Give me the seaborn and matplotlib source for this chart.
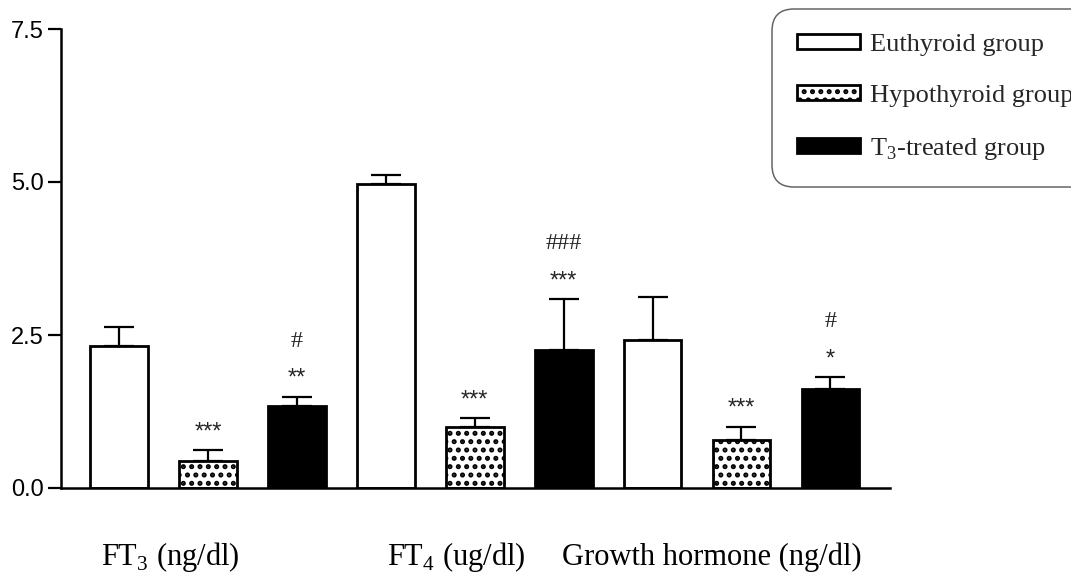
import matplotlib
matplotlib.use("Agg")
import matplotlib.pyplot as plt
import seaborn as sns
import pandas as pd
import numpy as np

# ---- data ----
bar_ids = ["FT3-E", "FT3-H", "FT3-T", "FT4-E", "FT4-H", "FT4-T", "GH-E", "GH-H", "GH-T"]
groups = ["Euthyroid group", "Hypothyroid group", "T$_\\mathregular{3}$-treated group"] * 3
means = [2.32, 0.44, 1.34, 4.97, 1.00, 2.25, 2.42, 0.78, 1.62]
errors = [0.31, 0.18, 0.15, 0.14, 0.14, 0.84, 0.70, 0.22, 0.19]
stars = ["", "***", "**", "", "***", "***", "", "***", "*"]
hashes = ["", "", "#", "", "", "###", "", "", "#"]
category_labels = ["FT$_\\mathregular{3}$ (ng/dl)", "FT$_\\mathregular{4}$ (ug/dl)", "Growth hormone (ng/dl)"]
y_ticks = [0.0, 2.5, 5.0, 7.5]

sns.set_theme(style="ticks")
plt.rcParams["font.family"] = ["Liberation Sans", "DejaVu Sans"]
plt.rcParams["hatch.linewidth"] = 2.4
plt.rcParams["mathtext.fontset"] = "custom"
plt.rcParams["mathtext.rm"] = "Liberation Serif"

df = pd.DataFrame({"bar": bar_ids, "group": groups, "mean": means})
hue_order = list(dict.fromkeys(groups))
palette = {hue_order[0]: "white", hue_order[1]: "white", hue_order[2]: "black"}

fig = plt.figure(figsize=(10.71, 5.80), dpi=100)
ax = fig.add_axes([61 / 1071, 1 - 488 / 580, (890 - 61) / 1071, (488 - 29) / 580])

sns.barplot(data=df, x="bar", y="mean", hue="group", order=bar_ids, hue_order=hue_order,
            palette=palette, dodge=False, width=0.65, edgecolor="black", linewidth=2,
            errorbar=None, legend=False, ax=ax, saturation=1)

for c in ax.containers[1:2]:
    for p in c.patches:
        p.set_hatch("..")

xs = np.arange(len(bar_ids))
ax.errorbar(xs, means, yerr=[np.zeros(len(errors)), errors], fmt="none", ecolor="black",
            elinewidth=1.6, capsize=10.5, capthick=1.6, zorder=1)
for c in ax.containers[:3]:
    for p in c.patches:
        p.set_zorder(2)

for x, m, e, s, h in zip(xs, means, errors, stars, hashes):
    top = m + e
    if s:
        ax.annotate(s, xy=(x, top), xytext=(0, 8.5), textcoords="offset points",
                    ha="center", va="baseline", fontsize=17, family="Liberation Sans")
    if h:
        ax.annotate(h, xy=(x, top), xytext=(0, 36), textcoords="offset points",
                    ha="center", va="baseline", fontsize=17.5, family="Liberation Serif")

ax.set_xlim(-0.652, 8.67)
ax.set_ylim(0, 7.5)
ax.set_yticks(y_ticks)
ax.set_yticklabels([f"{t:.1f}" for t in y_ticks])
ax.set_xticks([])
ax.set_xlabel("")
ax.set_ylabel("")
ax.tick_params(axis="y", labelsize=17, width=1.6, length=9.4, pad=3.2,
               color="black", labelcolor="black")
sns.despine(ax=ax)
for sp in ["left", "bottom"]:
    ax.spines[sp].set_linewidth(1.8)
    ax.spines[sp].set_color("black")

# category labels under the axis
label_lefts = [101, 387, 562]
for lab, lx in zip(category_labels, label_lefts):
    fig.text(lx / 1071, 1 - 565 / 580, lab, ha="left", va="baseline",
             fontsize=22, family="Liberation Serif", color="black")

handles = [ax.containers[i].patches[0] for i in range(3)]
leg = fig.legend(handles, hue_order, loc="upper left",
                 bbox_to_anchor=(772 / 1071, 1 - 9 / 580), bbox_transform=fig.transFigure,
                 borderaxespad=0, borderpad=0.95, handlelength=2.4, handleheight=0.5,
                 handletextpad=0.35, labelspacing=1.1, frameon=True, fancybox=True,
                 prop={"family": "Liberation Serif", "size": 19})
fr = leg.get_frame()
fr.set_edgecolor("#666666")
fr.set_linewidth(1.1)
fr.set_alpha(1)
fr.set_boxstyle("round,pad=0,rounding_size=0.85")

fig.savefig("out.png", dpi=100)
